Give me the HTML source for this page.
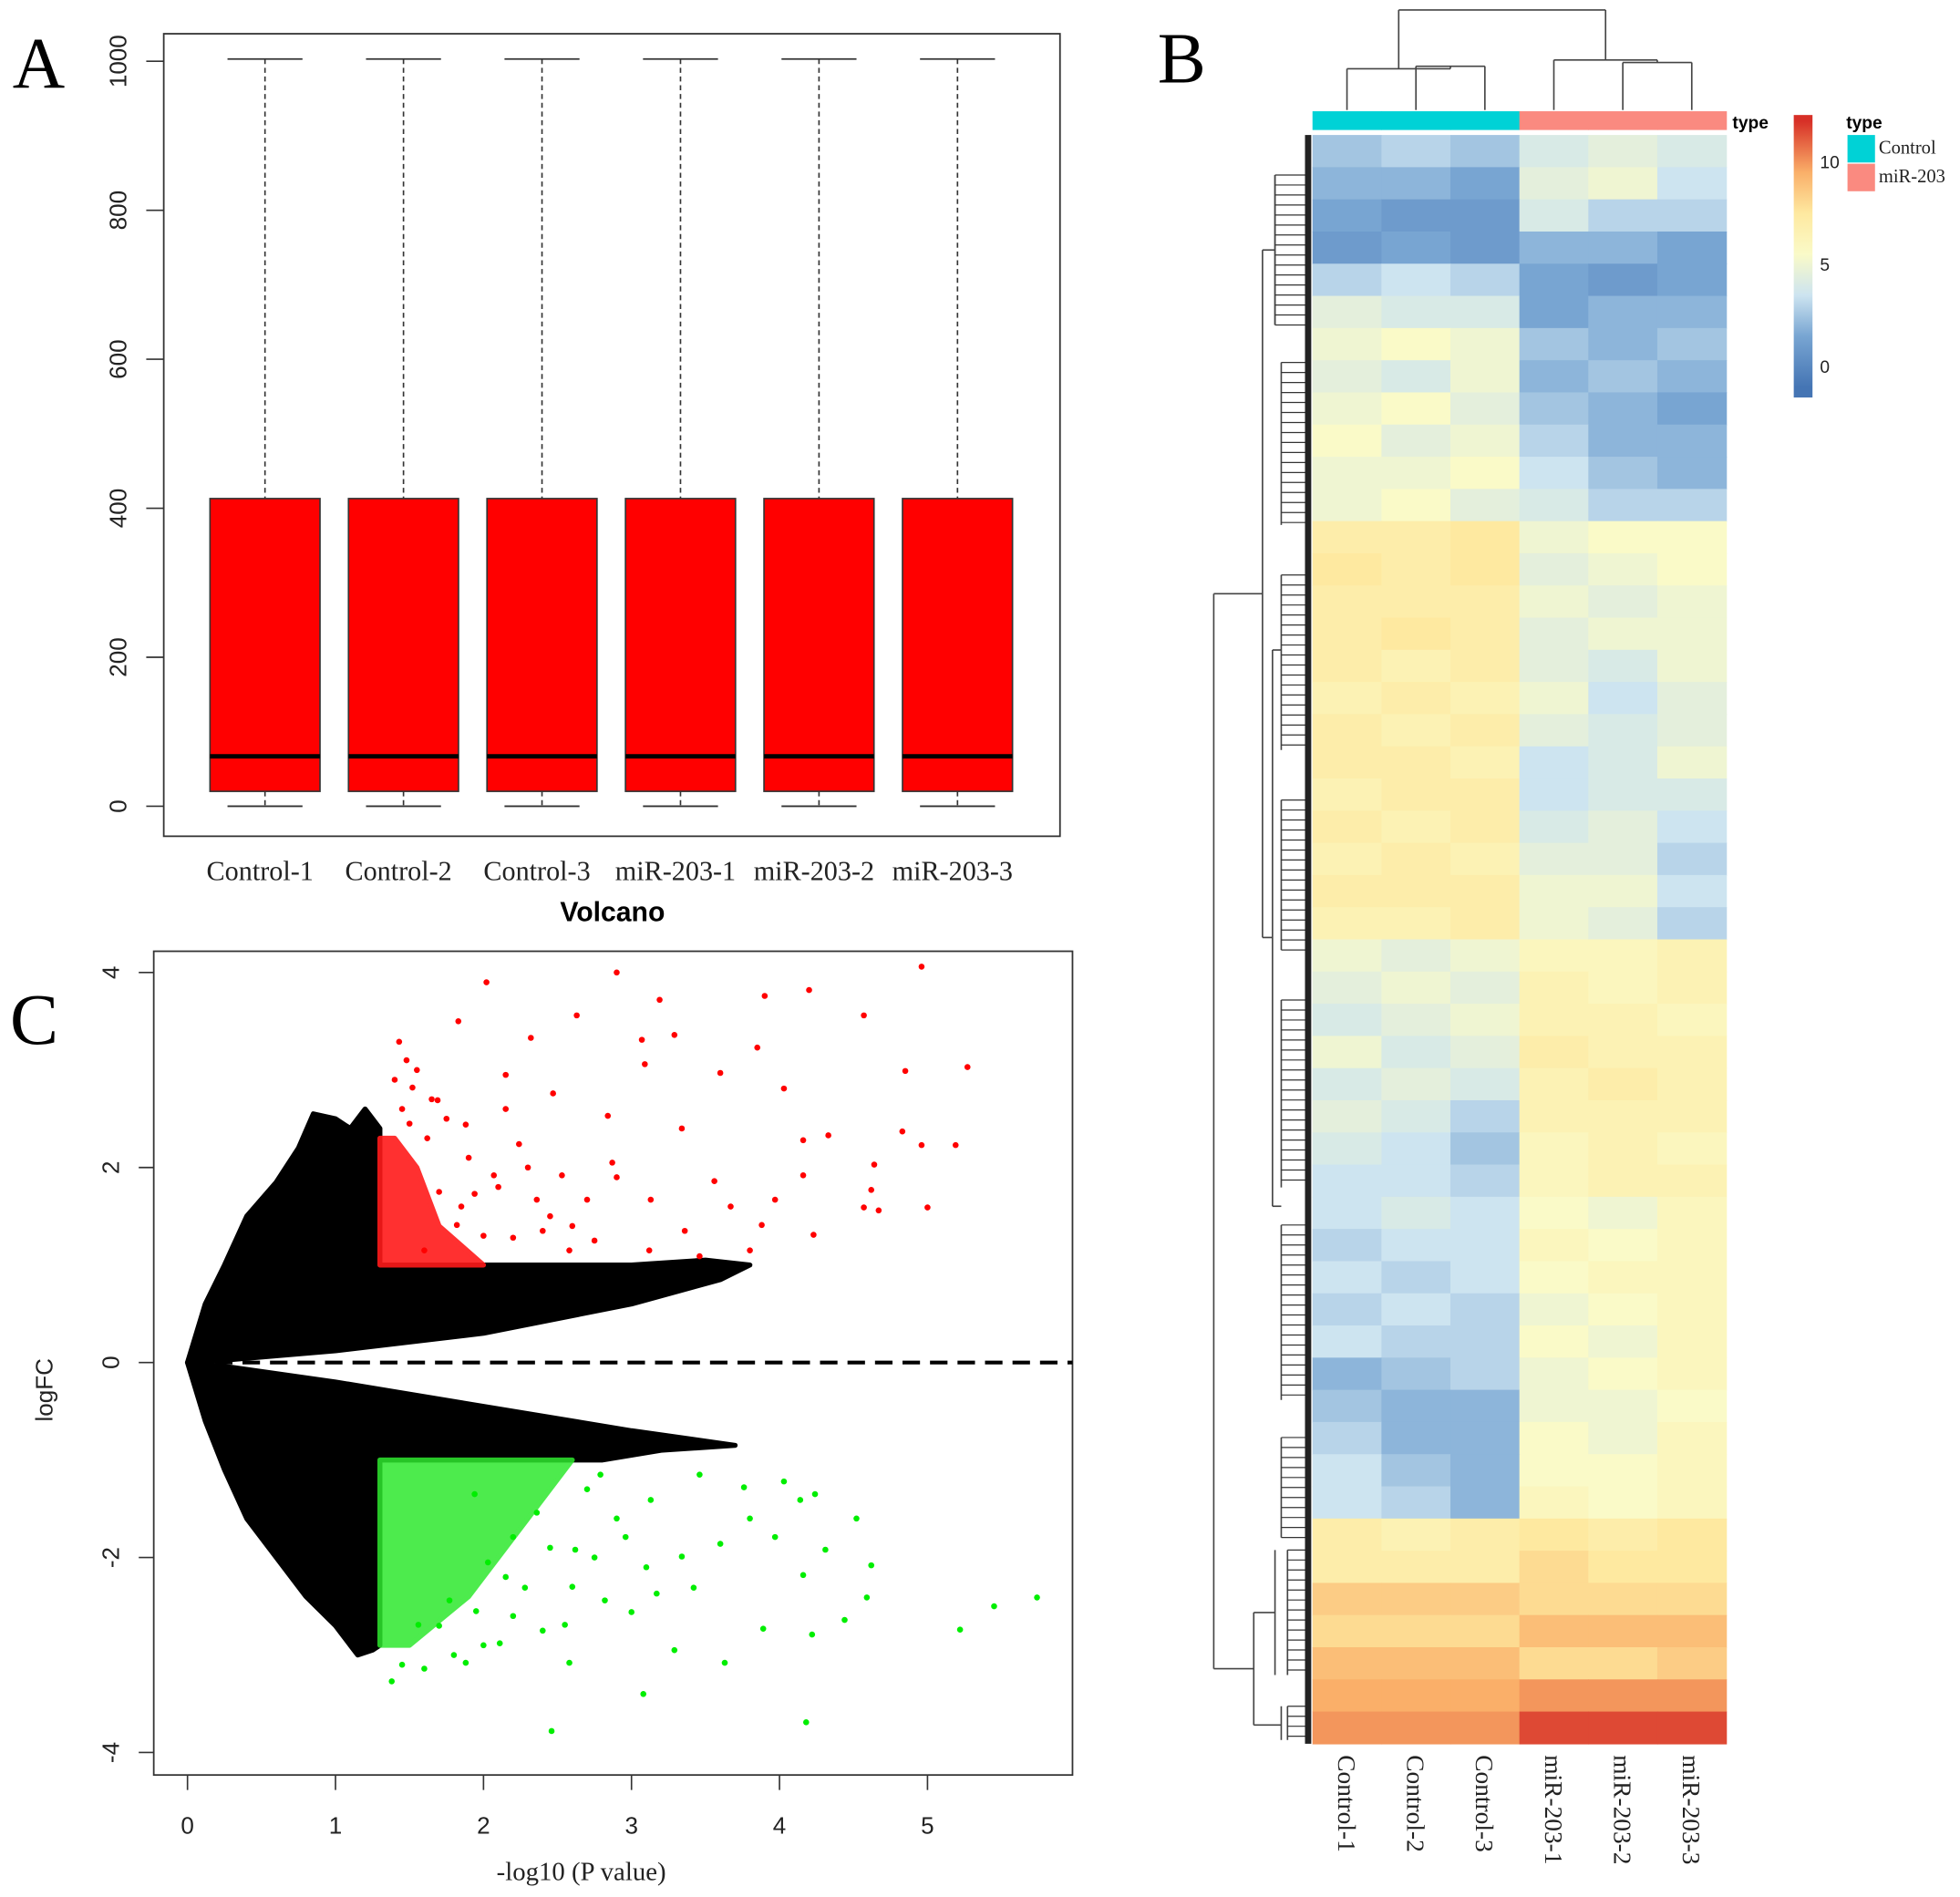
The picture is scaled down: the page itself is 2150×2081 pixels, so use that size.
<!DOCTYPE html>
<html><head><meta charset="utf-8">
<style>
html,body{margin:0;padding:0;background:#fff;}
svg{display:block;}
.sans{font-family:"Liberation Sans",sans-serif;}
.serif{font-family:"Liberation Serif",serif;}
</style></head>
<body>
<svg id="fig" width="2150" height="2081" viewBox="0 0 1568 1517.6" preserveAspectRatio="none" xmlns="http://www.w3.org/2000/svg">
<rect width="1568" height="1518" fill="#fff"/>
<g id="panelA"></g>
<g id="panelC"></g>
<g id="panelB"></g>
</svg>
<script>
// ---------- Panel A data ----------
const boxSamples = ["Control-1","Control-2","Control-3","miR-203-1","miR-203-2","miR-203-3"];
const boxMin = [0,0,0,0,0,0];
const boxQ1 = [20,20,20,20,20,20];
const boxMedian = [67,67,67,67,67,67];
const boxQ3 = [413,413,413,413,413,413];
const boxMax = [1003,1003,1003,1003,1003,1003];
const boxTicks = [0,200,400,600,800,1000];

// ---------- Panel C data ----------
const volXTicks = [0,1,2,3,4,5];
const volYTicks = [-4,-2,0,2,4];
const upBlackX = [0,0.04,0.12,0.25,0.4,0.6,0.75,0.85,1.0,1.1,1.2,1.3,1.3,2,3,3.5,3.8,3.6,3,2,1,0.3];
const upBlackY = [0,0.2,0.6,1.0,1.5,1.85,2.2,2.55,2.5,2.4,2.6,2.4,1.0,1.0,1.0,1.05,1.0,0.85,0.6,0.3,0.12,0.03];
const loBlackX = [0,0.04,0.12,0.25,0.4,0.6,0.8,1.0,1.15,1.25,1.3,1.3,2,2.8,3.2,3.7,3,2,1,0.3];
const loBlackY = [0,-0.2,-0.6,-1.1,-1.6,-2.0,-2.4,-2.7,-3.0,-2.95,-2.9,-1.0,-1.0,-1.0,-0.9,-0.85,-0.7,-0.45,-0.2,-0.05];
const redDenseX = [1.3,2.0,1.7,1.55,1.4,1.3];
const redDenseY = [1,1,1.4,2.0,2.3,2.3];
const greenDenseX = [1.3,2.6,2.3,1.9,1.5,1.3];
const greenDenseY = [-1,-1,-1.6,-2.4,-2.9,-2.9];
const redX = [2.02,2.9,3.19,4.96,4.2,3.9,2.63,4.57,1.83,2.32,1.43,3.29,3.07,3.85,5.27,4.85,3.6,4.03,3.09,2.15,2.47,4.83,4.33,4.96,5.19,4.16,3.34,2.84,4.64,4.16,4.62,5.0,4.67,4.57,3.97,3.56,3.88,4.23,3.8,3.36,3.12,2.7,2.58,2.24,1.88,1.69,1.52,2.07,2.36,1.82,1.6,2.87,3.13,3.46,3.67,2.53,2.2,1.94,1.45,1.5,1.62,1.75,1.4,1.55,1.9,2.1,2.3,2.45,1.7,1.85,2.0,2.6,2.75,2.4,1.48,1.65,2.15,2.9];
const redY = [3.9,4.0,3.72,4.06,3.82,3.76,3.56,3.56,3.5,3.33,3.29,3.36,3.31,3.23,3.03,2.99,2.97,2.81,3.06,2.95,2.76,2.37,2.33,2.23,2.23,2.28,2.4,2.53,2.03,1.92,1.77,1.59,1.56,1.59,1.67,1.86,1.41,1.31,1.15,1.35,1.15,1.67,1.15,2.24,2.44,2.69,2.82,1.92,1.67,1.41,1.15,2.05,1.67,1.09,1.6,1.92,1.28,1.73,2.6,2.45,2.3,2.5,2.9,3.0,2.1,1.8,2.0,1.5,1.75,1.6,1.3,1.4,1.25,1.35,3.1,2.7,2.6,1.9];
const greenX = [2.46,4.18,3.08,5.74,5.45,5.22,4.22,3.89,4.44,4.59,4.62,4.16,4.52,4.24,4.03,3.8,3.6,3.34,3.0,2.82,2.55,1.88,1.6,1.38,2.11,2.28,2.62,3.13,3.46,2.79,2.36,2.03,1.77,1.56,2.96,3.29,3.63,2.58,3.97,4.31,3.76,4.14,2.2,1.94,3.42,3.17,2.7,2.9,3.1,2.45,2.6,2.2,2.0,1.8,1.7,2.4,2.75,1.45,1.95,2.15];
const greenY = [-3.78,-3.69,-3.4,-2.41,-2.5,-2.74,-2.79,-2.73,-2.64,-2.41,-2.08,-2.18,-1.6,-1.35,-1.22,-1.6,-1.86,-1.99,-2.56,-2.44,-2.69,-3.08,-3.14,-3.27,-2.88,-2.31,-1.92,-1.41,-1.15,-1.15,-1.54,-2.05,-2.44,-2.69,-1.79,-2.95,-3.08,-3.08,-1.79,-1.92,-1.28,-1.41,-1.79,-1.35,-2.31,-2.37,-1.3,-1.6,-2.1,-1.9,-2.3,-2.6,-2.9,-3.0,-2.7,-2.75,-2.0,-3.1,-2.55,-2.2];

// ---------- Panel B data ----------
const heatCols = ["Control-1","Control-2","Control-3","miR-203-1","miR-203-2","miR-203-3"];
const heatGroups = ["Control","Control","Control","miR-203","miR-203","miR-203"];
const heatRows = [
[2.5,3,2.5,4,4.5,4],[2,2,1.5,4.5,5,3.5],[1.5,1,1,4,3,3],[1,1.5,1,2,2,1.5],[3,3.5,3,1.5,1,1.5],
[4.5,4,4,1.5,2,2],[5,5.5,5,2.5,2,2.5],[4.5,4,5,2,2.5,2],[5,5.5,4.5,2.5,2,1.5],[5.5,4.5,5,3,2,2],
[5,5,5.5,3.5,2.5,2],[5,5.5,4.5,4,3,3],[7,7,7.5,5,5.5,5.5],[7.5,7,7.5,4.5,5,5.5],[7,7,7,5,4.5,5],
[7,7.5,7,4.5,5,5],[7,6.5,7,4.5,4,5],[6.5,7,6.5,5,3.5,4.5],[7,6.5,7,4.5,4,4.5],[7,7,6.5,3.5,4,5],
[6.5,7,7,3.5,4,4],[7,6.5,7,4,4.5,3.5],[6.5,7,6.5,4.5,4.5,3],[7,7,7,5,5,3.5],[6.5,6.5,7,5,4.5,3],
[5,4.5,5,6,6,6.5],[4.5,5,4.5,6.5,6,6.5],[4,4.5,5,6.5,6.5,6],[5,4,4.5,7,6.5,6.5],[4,4.5,4,6.5,7,6.5],
[4.5,4,3,6.5,6.5,6.5],[4,3.5,2.5,6,6.5,6],[3.5,3.5,3,6,6.5,6.5],[3.5,4,3.5,5.5,5,6],[3,3.5,3.5,6,5.5,6],
[3.5,3,3.5,5.5,6,6],[3,3.5,3,5,5.5,6],[3.5,3,3,5.5,5,6],[2,2.5,3,5,5.5,6],[2.5,2,2,5,5,5.5],
[3,2,2,5.5,5,6],[3.5,2.5,2,5.5,5.5,6],[3.5,3,2,6,5.5,6],[7,6.5,7,7.5,7,7.5],[7,7,7,8,7.5,7.5],
[8.5,8.5,8.5,8,8,8],[8,8,8,9,9,9],[9,9,9,8,8,8.5],[9.5,9.5,9.5,10,10,10],[10,10,10,11.5,11.5,11.5]
];
const legendTicks = [0,5,10];

const NS="http://www.w3.org/2000/svg";
function mk(parent,tag,attrs,text){const e=document.createElementNS(NS,tag);for(const k in attrs)e.setAttribute(k,attrs[k]);if(text!==undefined)e.textContent=text;parent.appendChild(e);return e;}

// ===== Panel A =====
(function(){
const g=document.getElementById('panelA');
const yA=v=>645-v*0.596;
const xA=i=>212+i*110.8;
let t=mk(g,'text',{x:10,y:70,'font-size':58,class:'serif'},'A');


let fr=mk(g,'rect',{x:131,y:27,width:717,height:642,fill:'none',stroke:'#333','stroke-width':1.3});


boxTicks.forEach(v=>{
  mk(g,'line',{x1:117,x2:131,y1:yA(v),y2:yA(v),stroke:'#333','stroke-width':1.2});
  let tl=mk(g,'text',{x:0,y:0,transform:`translate(101,${yA(v)}) rotate(-90)`,'text-anchor':'middle','font-size':19,class:'sans',fill:'#222'},v);
  
  
});
boxSamples.forEach((s,i)=>{
  const cx=xA(i);
  mk(g,'line',{x1:cx,x2:cx,y1:yA(boxMax[i]),y2:yA(boxQ3[i]),stroke:'#333','stroke-dasharray':'4,3','stroke-width':1.2});
  mk(g,'line',{x1:cx,x2:cx,y1:yA(boxQ1[i]),y2:yA(boxMin[i]),stroke:'#333','stroke-dasharray':'4,3','stroke-width':1.2});
  mk(g,'line',{x1:cx-30,x2:cx+30,y1:yA(boxMax[i]),y2:yA(boxMax[i]),stroke:'#333','stroke-width':1.3});
  mk(g,'line',{x1:cx-30,x2:cx+30,y1:yA(boxMin[i]),y2:yA(boxMin[i]),stroke:'#333','stroke-width':1.3});
  let b=mk(g,'rect',{x:cx-44,y:yA(boxQ3[i]),width:88,height:yA(boxQ1[i])-yA(boxQ3[i]),fill:'#ff0000',stroke:'#333','stroke-width':1.2});
  
  
  mk(g,'line',{x1:cx-44,x2:cx+44,y1:yA(boxMedian[i]),y2:yA(boxMedian[i]),stroke:'#000','stroke-width':3.5});
  let l=mk(g,'text',{x:cx-4,y:704,'text-anchor':'middle','font-size':22,class:'serif',fill:'#222'},s);
  
  
});
let ti=mk(g,'text',{x:490,y:737,'text-anchor':'middle','font-size':22,'font-weight':'bold',class:'sans'},'Volcano');


})();

// ===== Panel C =====
(function(){
const g=document.getElementById('panelC');
const xC=v=>150+v*118.4;
const yC=v=>1090-v*78;
let t=mk(g,'text',{x:8,y:835,'font-size':58,class:'serif'},'C');


let fr=mk(g,'rect',{x:123,y:761,width:735,height:659,fill:'none',stroke:'#333','stroke-width':1.3});


volXTicks.forEach(v=>{
  mk(g,'line',{x1:xC(v),x2:xC(v),y1:1420,y2:1432,stroke:'#333','stroke-width':1.2});
  let tl=mk(g,'text',{x:xC(v),y:1467,'text-anchor':'middle','font-size':19,class:'sans',fill:'#222'},v);
  
  
});
volYTicks.forEach(v=>{
  mk(g,'line',{x1:111,x2:123,y1:yC(v),y2:yC(v),stroke:'#333','stroke-width':1.2});
  let tl=mk(g,'text',{x:0,y:0,transform:`translate(95,${yC(v)}) rotate(-90)`,'text-anchor':'middle','font-size':19,class:'sans',fill:'#222'},v);
  
  
});
let xt=mk(g,'text',{x:465,y:1504,'text-anchor':'middle','font-size':21,class:'serif',fill:'#222'},'-log10 (P value)');


let yt=mk(g,'text',{x:0,y:0,transform:'translate(42,1112) rotate(-90)','text-anchor':'middle','font-size':19,class:'sans',fill:'#222'},'logFC');


const poly=(X,Y,fill,name,op)=>{const p=mk(g,'polygon',{points:X.map((x,i)=>xC(x)+','+yC(Y[i])).join(' '),fill:fill,stroke:fill,'stroke-width':4,'stroke-linejoin':'round','opacity':op});
  
  };
poly(upBlackX,upBlackY,'#000','black-cloud-up',1);
poly(loBlackX,loBlackY,'#000','black-cloud-down',1);
poly(redDenseX,redDenseY,'#ff1a1a','red-dense-region',0.9);
poly(greenDenseX,greenDenseY,'#2ee82e','green-dense-region',0.85);
redX.forEach((x,i)=>{const c=mk(g,'circle',{cx:xC(x),cy:yC(redY[i]),r:2.4,fill:'#ff0000'});
  
  });
greenX.forEach((x,i)=>{const c=mk(g,'circle',{cx:xC(x),cy:yC(greenY[i]),r:2.4,fill:'#00ee00'});
  
  });
let dl=mk(g,'line',{x1:xC(0),x2:858,y1:yC(0),y2:yC(0),stroke:'#000','stroke-width':3,'stroke-dasharray':'14,8'});


})();

// ===== Panel B =====
(function(){
const g=document.getElementById('panelB');
const hx0=1050,hx1=1381,hy0=108,hy1=1395;
const cw=(hx1-hx0)/heatCols.length, rh=(hy1-hy0)/heatRows.length;
const stops=[[-1,[69,117,180]],[1.5,[120,165,210]],[3.5,[205,228,240]],[5.5,[250,250,200]],[7.5,[254,233,160]],[9.5,[250,175,105]],[12,[215,48,39]]];
function col(v){
  if(v<=stops[0][0])return 'rgb('+stops[0][1]+')';
  for(let i=1;i<stops.length;i++){if(v<=stops[i][0]){const a=stops[i-1],b=stops[i],t=(v-a[0])/(b[0]-a[0]);
    return 'rgb('+a[1].map((c,k)=>Math.round(c+(b[1][k]-c)*t)).join(',')+')';}}
  return 'rgb('+stops[stops.length-1][1]+')';
}
let t=mk(g,'text',{x:926,y:66,'font-size':58,class:'serif'},'B');


heatRows.forEach((row,r)=>row.forEach((v,c)=>{
  const e=mk(g,'rect',{x:hx0+c*cw,y:hy0+r*rh,width:cw+0.5,height:rh+0.5,fill:col(v)});
  
  
}));
heatGroups.forEach((gr,c)=>{
  const e=mk(g,'rect',{x:hx0+c*cw,y:89,width:cw+0.5,height:15,fill:gr==='Control'?'#00d2d6':'#fa8a80'});
  
  
});
let ty=mk(g,'text',{x:1386,y:103,'font-size':14,'font-weight':'bold',class:'sans'},'type');


heatCols.forEach((s,c)=>{
  const l=mk(g,'text',{x:0,y:0,transform:`translate(${hx0+cw*(c+0.5)-7},1404) rotate(90)`,'font-size':20,class:'serif',fill:'#222'},s);
  
  
});
const cx=c=>hx0+cw*(c+0.5);
const dend=[[cx(1),53,cx(1),88],[cx(2),53,cx(2),88],[cx(1),53,cx(2),53],[cx(0),55,cx(0),88],[cx(0),55,(cx(1)+cx(2))/2,55],
[cx(4),50,cx(4),88],[cx(5),50,cx(5),88],[cx(4),50,cx(5),50],[cx(3),48,cx(3),88],[cx(3),48,(cx(4)+cx(5))/2,48],
[(cx(0)+(cx(1)+cx(2))/2)/2,8,(cx(0)+(cx(1)+cx(2))/2)/2,55],[(cx(3)+(cx(4)+cx(5))/2)/2,8,(cx(3)+(cx(4)+cx(5))/2)/2,48],
[(cx(0)+(cx(1)+cx(2))/2)/2,8,(cx(3)+(cx(4)+cx(5))/2)/2,8],[(cx(1)+cx(2))/2,53,(cx(1)+cx(2))/2,55],[(cx(4)+cx(5))/2,48,(cx(4)+cx(5))/2,50]];
dend.forEach(d=>mk(g,'line',{x1:d[0],y1:d[1],x2:d[2],y2:d[3],stroke:'#444','stroke-width':1.2}));
const rd=[[971,475,971,1335],[971,475,1010,475],[971,1335,1003,1335],
[1010,200,1010,750],[1010,200,1020,200],[1010,750,1018,750],
[1020,140,1020,260],[1018,520,1018,965],[1003,1290,1003,1380],[1003,1290,1020,1290],[1003,1380,1025,1380],
[1020,1240,1020,1340],[1025,1365,1025,1392],[1018,965,1025,965],[1018,520,1025,520]];
rd.forEach(d=>mk(g,'line',{x1:d[0],y1:d[1],x2:d[2],y2:d[3],stroke:'#444','stroke-width':1.2}));
const sub=[[1020,140,260],[1025,290,420],[1025,460,600],[1025,640,760],[1025,800,950],[1025,980,1120],[1025,1150,1230],[1030,1240,1340],[1030,1365,1392]];
sub.forEach(s=>{mk(g,'line',{x1:s[0],y1:s[1],x2:s[0],y2:s[2],stroke:'#444','stroke-width':1.2});
  for(let y=s[1];y<=s[2];y+=8)mk(g,'line',{x1:s[0],y1:y,x2:1046,y2:y,stroke:'#333','stroke-width':0.9});});
let leaf=mk(g,'rect',{x:1044,y:hy0,width:5,height:hy1-hy0,fill:'#222'});


const defs=mk(g,'defs',{});
const lg=mk(defs,'linearGradient',{id:'cb',x1:0,y1:1,x2:0,y2:0});
const lo=-1.5,hi=12.3;
stops.forEach(s=>mk(lg,'stop',{offset:((s[0]-lo)/(hi-lo)).toFixed(3),'stop-color':'rgb('+s[1]+')'}));
let cb=mk(g,'rect',{x:1435,y:92,width:15,height:226,fill:'url(#cb)'});


legendTicks.forEach(v=>{
  const y=318-(v-lo)/(hi-lo)*226;
  const l=mk(g,'text',{x:1456,y:y+5,'font-size':14,class:'sans',fill:'#222'},v);
  
  
});
let lt=mk(g,'text',{x:1477,y:103,'font-size':14,'font-weight':'bold',class:'sans'},'type');


let s1=mk(g,'rect',{x:1478,y:108,width:22,height:22,fill:'#00d2d6'});


let s2=mk(g,'rect',{x:1478,y:131,width:22,height:22,fill:'#fa8a80'});


let t1=mk(g,'text',{x:1503,y:123,'font-size':15,class:'serif',fill:'#222'},'Control');


let t2=mk(g,'text',{x:1503,y:146,'font-size':15,class:'serif',fill:'#222'},'miR-203');


})();
</script>
</body></html>
